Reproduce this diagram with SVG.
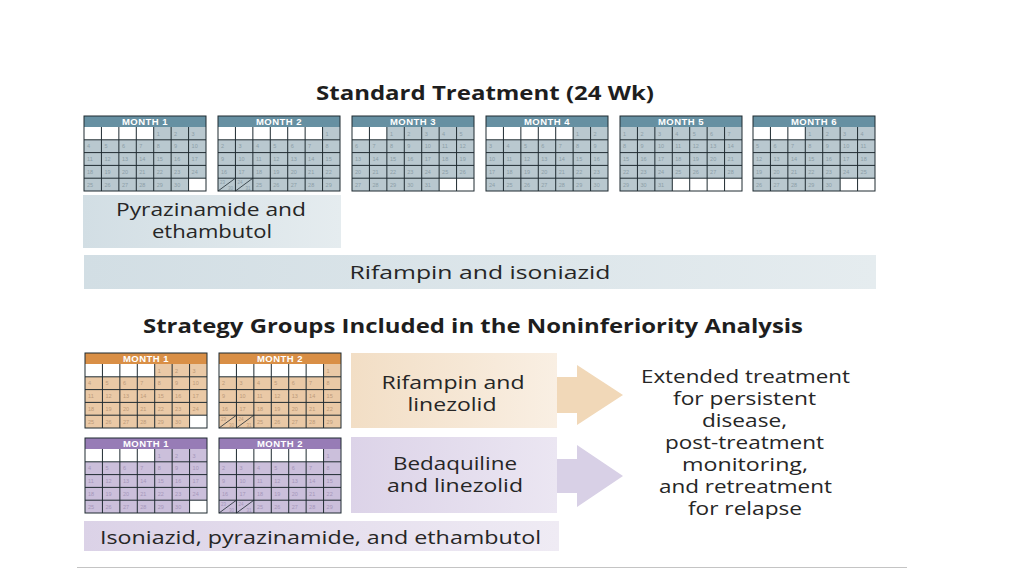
<svg xmlns="http://www.w3.org/2000/svg" xmlns:xlink="http://www.w3.org/1999/xlink" width="1024" height="576" viewBox="0 0 1024 576">
<style>
.lbl{font-family:"Open Sans","Liberation Sans",sans-serif;font-size:18px;fill:#262626;text-anchor:middle}
.ttl{font-family:"Open Sans","Liberation Sans",sans-serif;font-size:20px;font-weight:bold;fill:#1e1e1e;text-anchor:middle}
.ht{font-family:"Liberation Sans",Arial,sans-serif;font-size:9.5px;font-weight:bold;fill:#ffffff;text-anchor:middle;letter-spacing:0.5px}
.num{font-family:"Liberation Sans",Arial,sans-serif;font-size:5.5px}
.frame{fill:none;stroke:#1f2b31;stroke-width:1}
.h-std{fill:#6690a2}.b-std{fill:#b9c8cf}.n-std{fill:#8c9ea7}
.h-or{fill:#d98f46}.b-or{fill:#eac9a6}.n-or{fill:#bc9a7a}
.h-pu{fill:#977cb6}.b-pu{fill:#cbbfdb}.n-pu{fill:#a596ba}
</style>
<defs>
<linearGradient id="gBlue" x1="0" x2="1" y1="0" y2="0"><stop offset="0" stop-color="#d2dee4"/><stop offset="1" stop-color="#e5ecef"/></linearGradient>
<linearGradient id="gOr" x1="0" x2="1" y1="0" y2="0"><stop offset="0" stop-color="#f2dec5"/><stop offset="1" stop-color="#f9efe3"/></linearGradient>
<linearGradient id="gPu" x1="0" x2="1" y1="0" y2="0"><stop offset="0" stop-color="#dcd3e8"/><stop offset="1" stop-color="#ebe6f2"/></linearGradient>
<linearGradient id="gPu2" x1="0" x2="1" y1="0" y2="0"><stop offset="0" stop-color="#dbd2e7"/><stop offset="1" stop-color="#efebf4"/></linearGradient>
<path id="grid" d="M17.43 0V64M34.86 0V64M52.29 0V64M69.71 0V64M87.14 0V64M104.57 0V64M0 12.8H122M0 25.6H122M0 38.4H122M0 51.2H122" fill="none" stroke="#1f2b31" stroke-width="1"/>
<g id="d1" class="num">
<rect x="0" y="0" width="69.71" height="12.8" fill="#fff"/><rect x="104.57" y="51.2" width="17.43" height="12.8" fill="#fff"/>
<text x="72.7" y="8.5">1</text><text x="90.1" y="8.5">2</text><text x="107.6" y="8.5">3</text>
<text x="3" y="21.3">4</text><text x="20.4" y="21.3">5</text><text x="37.9" y="21.3">6</text><text x="55.3" y="21.3">7</text><text x="72.7" y="21.3">8</text><text x="90.1" y="21.3">9</text><text x="107.6" y="21.3">10</text>
<text x="3" y="34.1">11</text><text x="20.4" y="34.1">12</text><text x="37.9" y="34.1">13</text><text x="55.3" y="34.1">14</text><text x="72.7" y="34.1">15</text><text x="90.1" y="34.1">16</text><text x="107.6" y="34.1">17</text>
<text x="3" y="46.9">18</text><text x="20.4" y="46.9">19</text><text x="37.9" y="46.9">20</text><text x="55.3" y="46.9">21</text><text x="72.7" y="46.9">22</text><text x="90.1" y="46.9">23</text><text x="107.6" y="46.9">24</text>
<text x="3" y="59.7">25</text><text x="20.4" y="59.7">26</text><text x="37.9" y="59.7">27</text><text x="55.3" y="59.7">28</text><text x="72.7" y="59.7">29</text><text x="90.1" y="59.7">30</text>
</g>
<g id="d2" class="num">
<rect x="0" y="0" width="104.57" height="12.8" fill="#fff"/>
<text x="107.6" y="8.5">1</text>
<text x="3" y="21.3">2</text><text x="20.4" y="21.3">3</text><text x="37.9" y="21.3">4</text><text x="55.3" y="21.3">5</text><text x="72.7" y="21.3">6</text><text x="90.1" y="21.3">7</text><text x="107.6" y="21.3">8</text>
<text x="3" y="34.1">9</text><text x="20.4" y="34.1">10</text><text x="37.9" y="34.1">11</text><text x="55.3" y="34.1">12</text><text x="72.7" y="34.1">13</text><text x="90.1" y="34.1">14</text><text x="107.6" y="34.1">15</text>
<text x="3" y="46.9">16</text><text x="20.4" y="46.9">17</text><text x="37.9" y="46.9">18</text><text x="55.3" y="46.9">19</text><text x="72.7" y="46.9">20</text><text x="90.1" y="46.9">21</text><text x="107.6" y="46.9">22</text>
<text x="2" y="57" font-size="4.5">23</text><text x="10" y="62.8" font-size="4.5">30</text><text x="19.4" y="57" font-size="4.5">24</text><text x="27.4" y="62.8" font-size="4.5">31</text>
<text x="37.9" y="59.7">25</text><text x="55.3" y="59.7">26</text><text x="72.7" y="59.7">27</text><text x="90.1" y="59.7">28</text><text x="107.6" y="59.7">29</text>
<path d="M0 64L17.43 51.2M17.43 64L34.86 51.2" fill="none" stroke="#1f2b31" stroke-width="0.8"/>
</g>
<g id="d3" class="num">
<rect x="0" y="0" width="34.86" height="12.8" fill="#fff"/><rect x="87.14" y="51.2" width="34.86" height="12.8" fill="#fff"/>
<text x="37.9" y="8.5">1</text><text x="55.3" y="8.5">2</text><text x="72.7" y="8.5">3</text><text x="90.1" y="8.5">4</text><text x="107.6" y="8.5">5</text>
<text x="3" y="21.3">6</text><text x="20.4" y="21.3">7</text><text x="37.9" y="21.3">8</text><text x="55.3" y="21.3">9</text><text x="72.7" y="21.3">10</text><text x="90.1" y="21.3">11</text><text x="107.6" y="21.3">12</text>
<text x="3" y="34.1">13</text><text x="20.4" y="34.1">14</text><text x="37.9" y="34.1">15</text><text x="55.3" y="34.1">16</text><text x="72.7" y="34.1">17</text><text x="90.1" y="34.1">18</text><text x="107.6" y="34.1">19</text>
<text x="3" y="46.9">20</text><text x="20.4" y="46.9">21</text><text x="37.9" y="46.9">22</text><text x="55.3" y="46.9">23</text><text x="72.7" y="46.9">24</text><text x="90.1" y="46.9">25</text><text x="107.6" y="46.9">26</text>
<text x="3" y="59.7">27</text><text x="20.4" y="59.7">28</text><text x="37.9" y="59.7">29</text><text x="55.3" y="59.7">30</text><text x="72.7" y="59.7">31</text>
</g>
<g id="d4" class="num">
<rect x="0" y="0" width="87.14" height="12.8" fill="#fff"/>
<text x="90.1" y="8.5">1</text><text x="107.6" y="8.5">2</text>
<text x="3" y="21.3">3</text><text x="20.4" y="21.3">4</text><text x="37.9" y="21.3">5</text><text x="55.3" y="21.3">6</text><text x="72.7" y="21.3">7</text><text x="90.1" y="21.3">8</text><text x="107.6" y="21.3">9</text>
<text x="3" y="34.1">10</text><text x="20.4" y="34.1">11</text><text x="37.9" y="34.1">12</text><text x="55.3" y="34.1">13</text><text x="72.7" y="34.1">14</text><text x="90.1" y="34.1">15</text><text x="107.6" y="34.1">16</text>
<text x="3" y="46.9">17</text><text x="20.4" y="46.9">18</text><text x="37.9" y="46.9">19</text><text x="55.3" y="46.9">20</text><text x="72.7" y="46.9">21</text><text x="90.1" y="46.9">22</text><text x="107.6" y="46.9">23</text>
<text x="3" y="59.7">24</text><text x="20.4" y="59.7">25</text><text x="37.9" y="59.7">26</text><text x="55.3" y="59.7">27</text><text x="72.7" y="59.7">28</text><text x="90.1" y="59.7">29</text><text x="107.6" y="59.7">30</text>
</g>
<g id="d5" class="num">
<rect x="52.29" y="51.2" width="69.71" height="12.8" fill="#fff"/>
<text x="3" y="8.5">1</text><text x="20.4" y="8.5">2</text><text x="37.9" y="8.5">3</text><text x="55.3" y="8.5">4</text><text x="72.7" y="8.5">5</text><text x="90.1" y="8.5">6</text><text x="107.6" y="8.5">7</text>
<text x="3" y="21.3">8</text><text x="20.4" y="21.3">9</text><text x="37.9" y="21.3">10</text><text x="55.3" y="21.3">11</text><text x="72.7" y="21.3">12</text><text x="90.1" y="21.3">13</text><text x="107.6" y="21.3">14</text>
<text x="3" y="34.1">15</text><text x="20.4" y="34.1">16</text><text x="37.9" y="34.1">17</text><text x="55.3" y="34.1">18</text><text x="72.7" y="34.1">19</text><text x="90.1" y="34.1">20</text><text x="107.6" y="34.1">21</text>
<text x="3" y="46.9">22</text><text x="20.4" y="46.9">23</text><text x="37.9" y="46.9">24</text><text x="55.3" y="46.9">25</text><text x="72.7" y="46.9">26</text><text x="90.1" y="46.9">27</text><text x="107.6" y="46.9">28</text>
<text x="3" y="59.7">29</text><text x="20.4" y="59.7">30</text><text x="37.9" y="59.7">31</text>
</g>
<g id="d6" class="num">
<rect x="0" y="0" width="52.29" height="12.8" fill="#fff"/><rect x="87.14" y="51.2" width="34.86" height="12.8" fill="#fff"/>
<text x="55.3" y="8.5">1</text><text x="72.7" y="8.5">2</text><text x="90.1" y="8.5">3</text><text x="107.6" y="8.5">4</text>
<text x="3" y="21.3">5</text><text x="20.4" y="21.3">6</text><text x="37.9" y="21.3">7</text><text x="55.3" y="21.3">8</text><text x="72.7" y="21.3">9</text><text x="90.1" y="21.3">10</text><text x="107.6" y="21.3">11</text>
<text x="3" y="34.1">12</text><text x="20.4" y="34.1">13</text><text x="37.9" y="34.1">14</text><text x="55.3" y="34.1">15</text><text x="72.7" y="34.1">16</text><text x="90.1" y="34.1">17</text><text x="107.6" y="34.1">18</text>
<text x="3" y="46.9">19</text><text x="20.4" y="46.9">20</text><text x="37.9" y="46.9">21</text><text x="55.3" y="46.9">22</text><text x="72.7" y="46.9">23</text><text x="90.1" y="46.9">24</text><text x="107.6" y="46.9">25</text>
<text x="3" y="59.7">26</text><text x="20.4" y="59.7">27</text><text x="37.9" y="59.7">28</text><text x="55.3" y="59.7">29</text><text x="72.7" y="59.7">30</text>
</g>
</defs>
<rect width="1024" height="576" fill="#ffffff"/>

<g id="title-standard"><text class="ttl" x="485" y="100" textLength="338" lengthAdjust="spacingAndGlyphs">Standard Treatment (24 Wk)</text></g>

<g id="std-m1" transform="translate(84,116)"><rect class="h-std" width="122" height="11"/><text class="ht" x="61" y="9">MONTH 1</text><g transform="translate(0,11)"><rect class="b-std" width="122" height="64"/><use href="#d1" class="n-std"/><use href="#grid"/></g><rect class="frame" width="122" height="75"/></g>
<g id="std-m2" transform="translate(218,116)"><rect class="h-std" width="122" height="11"/><text class="ht" x="61" y="9">MONTH 2</text><g transform="translate(0,11)"><rect class="b-std" width="122" height="64"/><use href="#d2" class="n-std"/><use href="#grid"/></g><rect class="frame" width="122" height="75"/></g>
<g id="std-m3" transform="translate(352,116)"><rect class="h-std" width="122" height="11"/><text class="ht" x="61" y="9">MONTH 3</text><g transform="translate(0,11)"><rect class="b-std" width="122" height="64"/><use href="#d3" class="n-std"/><use href="#grid"/></g><rect class="frame" width="122" height="75"/></g>
<g id="std-m4" transform="translate(486,116)"><rect class="h-std" width="122" height="11"/><text class="ht" x="61" y="9">MONTH 4</text><g transform="translate(0,11)"><rect class="b-std" width="122" height="64"/><use href="#d4" class="n-std"/><use href="#grid"/></g><rect class="frame" width="122" height="75"/></g>
<g id="std-m5" transform="translate(620,116)"><rect class="h-std" width="122" height="11"/><text class="ht" x="61" y="9">MONTH 5</text><g transform="translate(0,11)"><rect class="b-std" width="122" height="64"/><use href="#d5" class="n-std"/><use href="#grid"/></g><rect class="frame" width="122" height="75"/></g>
<g id="std-m6" transform="translate(753,116)"><rect class="h-std" width="122" height="11"/><text class="ht" x="61" y="9">MONTH 6</text><g transform="translate(0,11)"><rect class="b-std" width="122" height="64"/><use href="#d6" class="n-std"/><use href="#grid"/></g><rect class="frame" width="122" height="75"/></g>

<g id="bar-pyrazinamide"><rect x="83" y="195" width="258" height="53" fill="url(#gBlue)"/>
<text class="lbl" x="211" y="216" textLength="190" lengthAdjust="spacingAndGlyphs">Pyrazinamide and</text>
<text class="lbl" x="212" y="238" textLength="120" lengthAdjust="spacingAndGlyphs">ethambutol</text></g>
<g id="bar-rifampin"><rect x="84" y="255" width="792" height="34" fill="url(#gBlue)"/>
<text class="lbl" x="480" y="279" textLength="261" lengthAdjust="spacingAndGlyphs">Rifampin and isoniazid</text></g>

<g id="title-strategy"><text class="ttl" x="473" y="333" textLength="660" lengthAdjust="spacingAndGlyphs">Strategy Groups Included in the Noninferiority Analysis</text></g>

<g id="or-m1" transform="translate(85,353)"><rect class="h-or" width="122" height="11"/><text class="ht" x="61" y="9">MONTH 1</text><g transform="translate(0,11)"><rect class="b-or" width="122" height="64"/><use href="#d1" class="n-or"/><use href="#grid"/></g><rect class="frame" width="122" height="75"/></g>
<g id="or-m2" transform="translate(219,353)"><rect class="h-or" width="122" height="11"/><text class="ht" x="61" y="9">MONTH 2</text><g transform="translate(0,11)"><rect class="b-or" width="122" height="64"/><use href="#d2" class="n-or"/><use href="#grid"/></g><rect class="frame" width="122" height="75"/></g>
<g id="pu-m1" transform="translate(85,438)"><rect class="h-pu" width="122" height="11"/><text class="ht" x="61" y="9">MONTH 1</text><g transform="translate(0,11)"><rect class="b-pu" width="122" height="64"/><use href="#d1" class="n-pu"/><use href="#grid"/></g><rect class="frame" width="122" height="75"/></g>
<g id="pu-m2" transform="translate(219,438)"><rect class="h-pu" width="122" height="11"/><text class="ht" x="61" y="9">MONTH 2</text><g transform="translate(0,11)"><rect class="b-pu" width="122" height="64"/><use href="#d2" class="n-pu"/><use href="#grid"/></g><rect class="frame" width="122" height="75"/></g>

<g id="box-rifampin-linezolid"><rect x="351" y="353" width="206" height="75" fill="url(#gOr)"/>
<text class="lbl" x="453" y="389" textLength="143" lengthAdjust="spacingAndGlyphs">Rifampin and</text>
<text class="lbl" x="452" y="411" textLength="89" lengthAdjust="spacingAndGlyphs">linezolid</text></g>
<g id="box-bedaquiline-linezolid"><rect x="351" y="437" width="206" height="76" fill="url(#gPu)"/>
<text class="lbl" x="455" y="470" textLength="124" lengthAdjust="spacingAndGlyphs">Bedaquiline</text>
<text class="lbl" x="455" y="492" textLength="136" lengthAdjust="spacingAndGlyphs">and linezolid</text></g>

<g id="connectors">
<polygon points="557,377 577,377 577,365 623,395 577,425 577,413 557,413" fill="#f1d8b8"/>
<polygon points="557,459 577,459 577,445 623,476 577,507 577,493 557,493" fill="#d8d0e6"/>
</g>

<g id="outcome">
<text class="lbl" x="745.5" y="383" textLength="209" lengthAdjust="spacingAndGlyphs">Extended treatment</text>
<text class="lbl" x="744.5" y="405" textLength="143" lengthAdjust="spacingAndGlyphs">for persistent</text>
<text class="lbl" x="744.5" y="427" textLength="85" lengthAdjust="spacingAndGlyphs">disease,</text>
<text class="lbl" x="744.5" y="449" textLength="159" lengthAdjust="spacingAndGlyphs">post-treatment</text>
<text class="lbl" x="745" y="471" textLength="126" lengthAdjust="spacingAndGlyphs">monitoring,</text>
<text class="lbl" x="745.5" y="493" textLength="173" lengthAdjust="spacingAndGlyphs">and retreatment</text>
<text class="lbl" x="745" y="515" textLength="114" lengthAdjust="spacingAndGlyphs">for relapse</text>
</g>

<g id="bar-isoniazid"><rect x="84" y="521" width="475" height="30" fill="url(#gPu2)"/>
<text class="lbl" x="320.5" y="544" textLength="441" lengthAdjust="spacingAndGlyphs">Isoniazid, pyrazinamide, and ethambutol</text></g>

<line x1="77" y1="567.5" x2="907" y2="567.5" stroke="#c4c4c4" stroke-width="1"/>
</svg>
